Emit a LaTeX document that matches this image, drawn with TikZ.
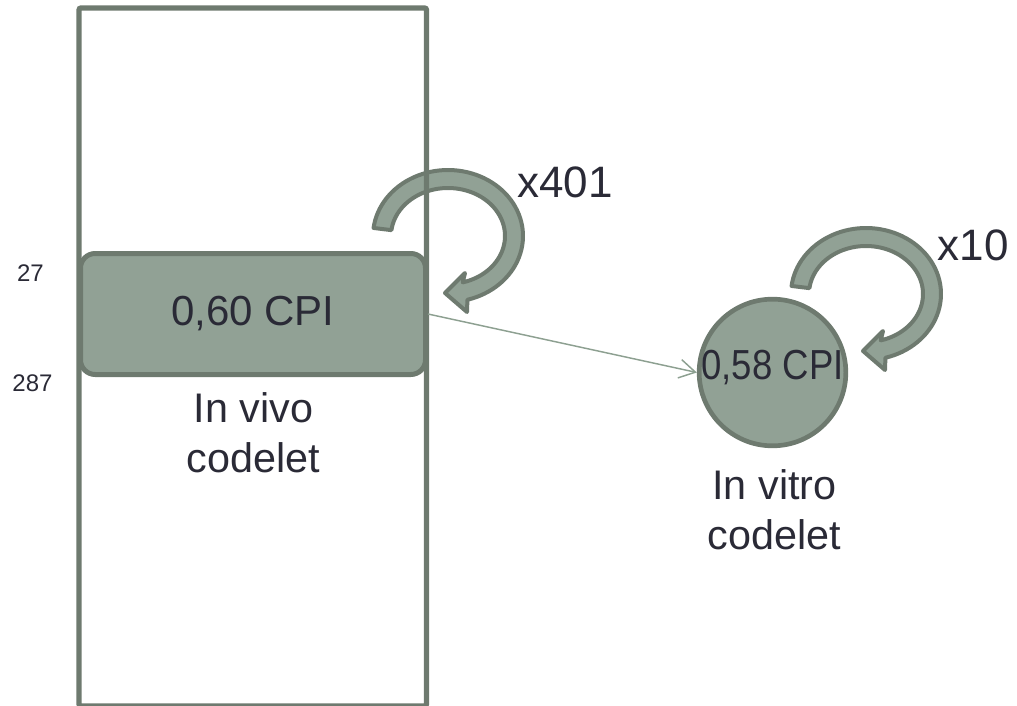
\documentclass[tikz,border=0pt]{standalone}
\usepackage{fontspec}
\setmainfont{Liberation Sans}
\usetikzlibrary{arrows.meta}
\definecolor{edgegrey}{HTML}{6E7A6F}
\definecolor{fillgrey}{HTML}{91A195}
\definecolor{linkgrey}{HTML}{8DA091}
\definecolor{inkdark}{HTML}{2A2A36}

\begin{document}
\begin{tikzpicture}[x=0.75pt,y=-0.75pt,
  frame/.style={draw=edgegrey, line width=4pt, rounded corners=1.5pt,
    minimum width=260.6pt, minimum height=523.5pt, inner sep=0pt},
  cpibox/.style={draw=edgegrey, fill=fillgrey, line width=3.75pt,
    rounded corners=11pt, minimum width=258.75pt, minimum height=90.75pt,
    inner sep=0pt, text=inkdark, font=\fontsize{31.5}{38}\selectfont},
  cpicircle/.style={circle, draw=edgegrey, fill=fillgrey, line width=3.5pt,
    minimum size=110pt, inner sep=-1pt, text=inkdark, text depth=11.25pt,
    font=\fontsize{31.5}{38}\selectfont},
  bigtext/.style={text=inkdark, font=\fontsize{31}{37.5}\selectfont,
    align=center, inner sep=0pt},
  counttext/.style={text=inkdark, font=\fontsize{33}{38}\selectfont, inner sep=0pt},
  smalltext/.style={text=inkdark, font=\fontsize{18}{21}\selectfont, inner sep=0pt},
  loopband/.style={draw=edgegrey, fill=fillgrey, line width=3pt, line join=round},
  link/.style={draw=linkgrey, line width=1.1pt,
    -{Straight Barb[length=12pt,width=14pt]}},
  pics/looparrow/.style={code={
    \path[loopband]
      plot[domain=187:435, samples=72] ({75*cos(\x)},{66*sin(\x)})
      -- (19,76) -- (-3,57) -- (17,37)
      -- plot[domain=435:187, samples=72] ({57*cos(\x)},{48*sin(\x)})
      -- cycle;
  }}
]
\useasboundingbox (0,0) rectangle (1017,706);

% self-loop arrows
\pic (loopvivo) at (448,236) {looparrow};
\pic (loopvitro) at (866,294) {looparrow};

% program column and the extracted codelet
\node[frame] (column) at (252.75,357) {};
\node[cpibox] (vivo) at (253,314) {0,60 CPI};
\node[cpicircle] (vitro) at (772.5,372.5) {\scalebox{0.87}[1]{0,58 CPI}};

\draw[link] (vivo.east) -- (vitro.west);

% labels
\node[bigtext] (vivolabel) at (253.5,432.5) {In vivo\\codelet};
\node[bigtext] (vitrolabel) at (774.5,510) {In vitro\\codelet};
\node[counttext] (rep401) at (565,182.5) {x401};
\node[counttext] (rep10) at (973,245) {x10};
\node[smalltext] (linefrom) at (30.5,273.5) {27};
\node[smalltext] (lineto) at (32.5,383) {287};
\end{tikzpicture}
\end{document}
